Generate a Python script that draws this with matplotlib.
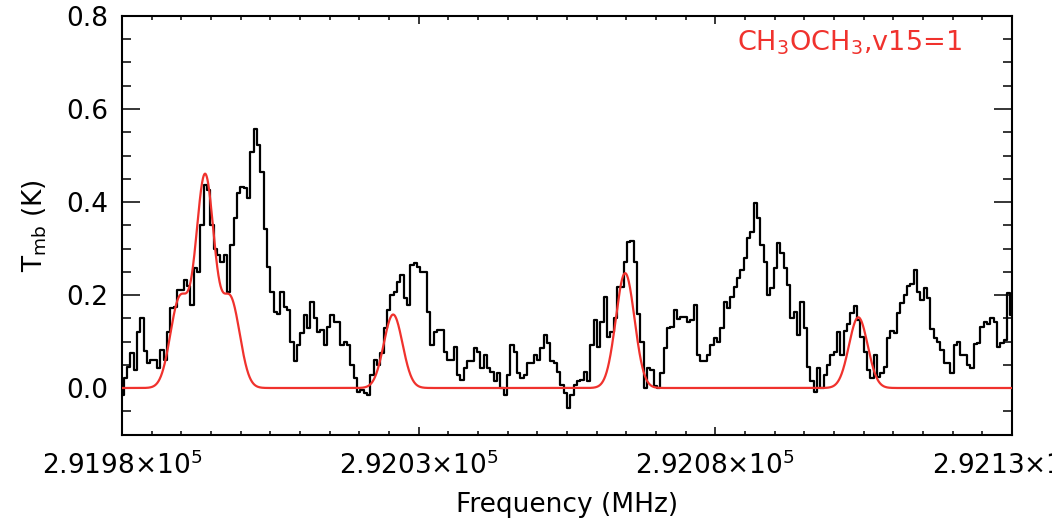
import numpy as np
import matplotlib
matplotlib.use("Agg")
import matplotlib.pyplot as plt
from matplotlib.ticker import MultipleLocator, FixedLocator

# Observed spectrum: first channel frequency, channel width (MHz) and Tmb (K)
freq_start = 291980.0
chan_width = 150.0 / 267
tmb = [
    # 291980 - 292010 MHz
    -0.015, 0.021, 0.046, 0.075, 0.039, 0.120, 0.150, 0.080, 0.053, 0.060,
    0.060, 0.042, 0.082, 0.060, 0.120, 0.171, 0.175, 0.210, 0.210, 0.232,
    0.220, 0.178, 0.257, 0.250, 0.350, 0.436, 0.426, 0.350, 0.300, 0.286,
    0.272, 0.286, 0.207, 0.307, 0.365, 0.419, 0.433, 0.430, 0.408, 0.508,
    0.558, 0.523, 0.465, 0.343, 0.261, 0.207, 0.164, 0.160, 0.207, 0.175,
    0.168, 0.100, 0.057, 0.092,
    # 292010 - 292039 MHz
    0.118, 0.157, 0.128, 0.186, 0.150, 0.121, 0.125, 0.092, 0.132, 0.157,
    0.143, 0.143, 0.092, 0.100, 0.092, 0.049, 0.021, -0.008, -0.004, -0.011,
    -0.015, 0.028, 0.060, 0.049, 0.075, 0.128, 0.168, 0.200, 0.207, 0.229,
    0.243, 0.193, 0.178, 0.265, 0.268, 0.261, 0.250, 0.250, 0.164, 0.092,
    0.121, 0.125, 0.125, 0.078, 0.060, 0.060, 0.089, 0.028, 0.017, 0.042,
    0.057,
    # 292039 - 292069 MHz
    0.057, 0.085, 0.078, 0.042, 0.071, 0.042, 0.035, 0.014, 0.032, -0.001,
    -0.015, 0.028, 0.092, 0.078, 0.032, 0.021, 0.028, 0.053, 0.053, 0.071,
    0.060, 0.085, 0.114, 0.096, 0.057, 0.053, 0.035, 0.006, -0.011, -0.044,
    -0.015, 0.006, 0.014, 0.017, 0.035, 0.014, 0.092, 0.146, 0.089, 0.143,
    0.196, 0.110, 0.121, 0.150, 0.218, 0.218, 0.272, 0.315, 0.316, 0.272,
    0.160, 0.100, -0.001, 0.042,
    # 292069 - 292100 MHz
    0.039, 0.005, -0.001, 0.032, 0.085, 0.128, 0.132, 0.168, 0.148, 0.153,
    0.153, 0.143, 0.146, 0.178, 0.071, 0.057, 0.057, 0.071, 0.092, 0.108,
    0.098, 0.128, 0.186, 0.171, 0.196, 0.218, 0.236, 0.254, 0.279, 0.322,
    0.336, 0.397, 0.365, 0.308, 0.272, 0.200, 0.214, 0.257, 0.311, 0.290,
    0.257, 0.222, 0.150, 0.164, 0.114, 0.186, 0.128, 0.046, 0.014, -0.008,
    0.042, -0.001, 0.028, 0.049,
    # 292100 - 292130 MHz
    0.071, 0.078, 0.121, 0.071, 0.123, 0.137, 0.161, 0.177, 0.146, 0.110,
    0.077, 0.039, 0.021, 0.071, 0.024, 0.032, 0.046, 0.107, 0.123, 0.118,
    0.161, 0.182, 0.200, 0.220, 0.223, 0.254, 0.207, 0.189, 0.216, 0.193,
    0.127, 0.108, 0.098, 0.082, 0.053, 0.053, 0.032, 0.092, 0.100, 0.072,
    0.071, 0.049, 0.042, 0.094, 0.096, 0.132, 0.141, 0.137, 0.150, 0.141,
    0.089, 0.096, 0.103, 0.204, 0.157,
]

# Synthetic CH3OCH3 v15=1 lines: rest frequencies (MHz), peak Tmb (K), FWHM (MHz)
line_freq = [291989.7, 291994.0, 291998.3, 292025.7, 292064.8, 292104.1]
line_peak = [0.188, 0.452, 0.188, 0.158, 0.247, 0.152]
line_fwhm = 3.7

species_label = r"CH$_3$OCH$_3$,v15=1"
x_range = (291980.0, 292130.0)
y_range = (-0.1, 0.8)
x_major = [291980.0, 292030.0, 292080.0, 292130.0]

model_color = "#f0322d"

freq = freq_start + chan_width * np.arange(len(tmb))
model_x = np.linspace(x_range[0], x_range[1], 3000)
sigma = line_fwhm / (2.0 * np.sqrt(2.0 * np.log(2.0)))
model_y = np.zeros_like(model_x)
for f0, tp in zip(line_freq, line_peak):
    model_y += tp * np.exp(-0.5 * ((model_x - f0) / sigma) ** 2)

plt.rcParams["font.family"] = ["DejaVu Sans"]
plt.rcParams["mathtext.fontset"] = "dejavusans"

fig = plt.figure(figsize=(10.52, 5.24), dpi=100)
ax = fig.add_axes([122 / 1052, 1 - 434.5 / 524, 890 / 1052, 418.5 / 524])

ax.plot(freq, tmb, drawstyle="steps-mid", color="black", lw=1.6, zorder=2)
ax.plot(model_x, model_y, color=model_color, lw=1.6, zorder=3)

ax.set_xlim(*x_range)
ax.set_ylim(*y_range)

ax.xaxis.set_major_locator(FixedLocator(x_major))
ax.xaxis.set_minor_locator(MultipleLocator(5))
ax.yaxis.set_major_locator(MultipleLocator(0.2))
ax.yaxis.set_minor_locator(MultipleLocator(0.05))
ax.set_xticklabels([f"{v / 1e5:.4f}" + r"$\times$10$^5$" for v in x_major])
ax.set_yticks([0.0, 0.2, 0.4, 0.6, 0.8])
ax.set_yticklabels([f"{v:.1f}" for v in [0.0, 0.2, 0.4, 0.6, 0.8]])

ax.tick_params(axis="both", which="both", direction="in",
               top=True, right=True, width=1.1, labelsize=19, colors="black")
ax.tick_params(axis="x", which="major", length=6.0, pad=12)
ax.tick_params(axis="x", which="minor", length=3.0)
ax.tick_params(axis="y", which="major", length=12.8, pad=10)
ax.tick_params(axis="y", which="minor", length=6.4)
for sp in ax.spines.values():
    sp.set_linewidth(1.5)

ax.set_xlabel("Frequency (MHz)", fontsize=19, labelpad=9)
ax.set_ylabel(r"T$_{\rm mb}$ (K)", fontsize=19, labelpad=12)

ax.text(0.691, 0.918, species_label, transform=ax.transAxes, color=model_color,
        fontsize=19.5, ha="left", va="baseline")

fig.savefig("out.png", dpi=100)
